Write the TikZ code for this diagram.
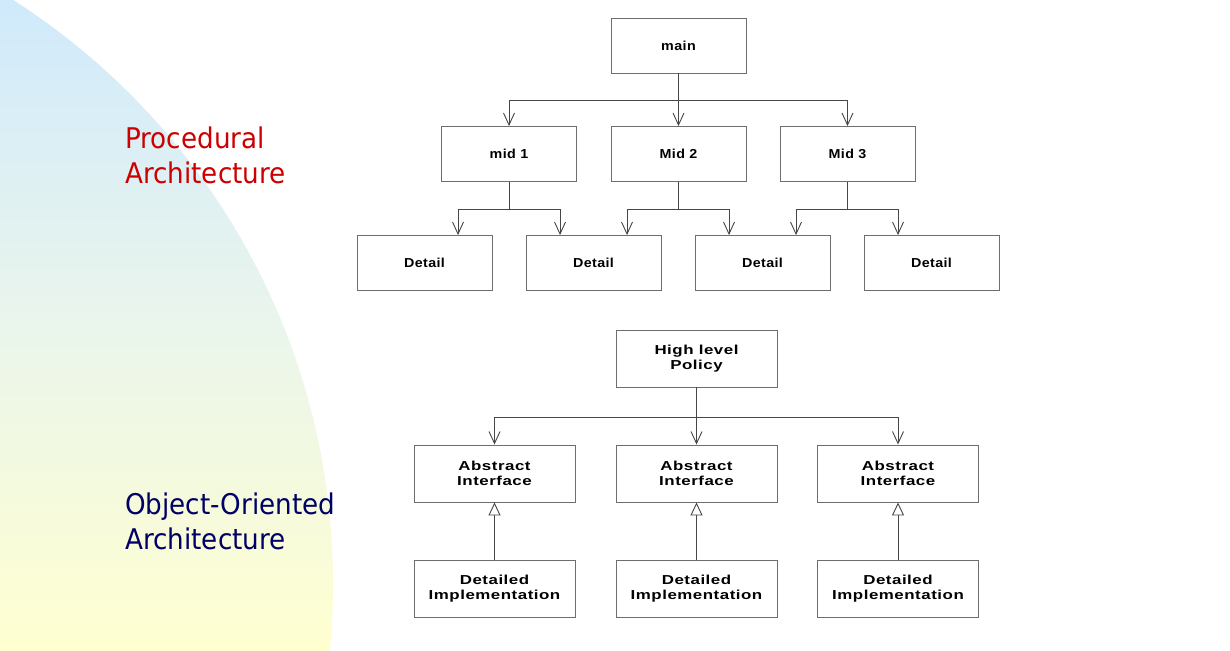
\documentclass[tikz,border=0pt]{standalone}
\usepackage{fontspec}
\usetikzlibrary{arrows.meta}
\newfontfamily\tahomalike{DejaVu Sans}[FakeStretch=0.92]
\newfontfamily\boxfont{Liberation Sans}[FakeStretch=1.1, LetterSpace=3]
\newfontfamily\boxfontwide{Liberation Sans}[FakeStretch=1.3, LetterSpace=4]
\definecolor{bgtop}{RGB}{208,234,251}
\definecolor{bgbot}{RGB}{255,255,208}
\definecolor{procred}{RGB}{204,0,0}
\definecolor{oonavy}{RGB}{0,0,102}
\definecolor{boxline}{RGB}{110,110,110}
\definecolor{conline}{RGB}{70,70,70}
\begin{document}
\begin{tikzpicture}[x=1pt,y=-1pt,
  topbox/.style={draw=boxline, line width=0.9pt, minimum width=135pt, minimum height=55pt,
    inner sep=0pt, align=center, font=\boxfont\bfseries\fontsize{13}{15.5}\selectfont},
  botbox/.style={draw=boxline, line width=0.9pt, minimum width=161pt, minimum height=57pt,
    inner sep=0pt, align=center, font=\boxfontwide\bfseries\fontsize{13}{15.5}\selectfont},
  bigtitle/.style={anchor=north west, inner sep=0pt, align=left,
    font=\tahomalike\fontsize{28.5}{35.5}\selectfont},
  arr/.style={draw=conline, line width=0.9pt, -{Straight Barb[length=12pt,width=11pt,line width=0.9pt]}},
  real/.style={draw=conline, line width=0.9pt, -{Triangle[open,length=13pt,width=12pt,line width=0.9pt]}}
]
\useasboundingbox (0,0) rectangle (1230,650);
\fill[white] (0,0) rectangle (1230,650);
\begin{scope}
  \clip (-360,584) circle [radius=693pt];
  \shade[top color=bgtop, bottom color=bgbot, middle color={rgb,255:red,234;green,245;blue,236}] (0,0) rectangle (340,650);
\end{scope}

% titles
\node[bigtitle, text=procred] (tproc) at (125,126.5) {Procedural\\Architecture};
\node[bigtitle, text=oonavy] (too) at (125,492.5) {Object-Oriented\\Architecture};

% procedural diagram
\node[topbox] (main) at (678.5,45.5) {main};
\node[topbox] (mid1) at (509,154) {mid 1};
\node[topbox] (mid2) at (678.5,154) {Mid 2};
\node[topbox] (mid3) at (847.5,154) {Mid 3};
\node[topbox] (d1) at (424.5,263) {Detail};
\node[topbox] (d2) at (593.5,263) {Detail};
\node[topbox] (d3) at (762.5,263) {Detail};
\node[topbox] (d4) at (931.5,263) {Detail};

\draw[arr] (main.south) -- ++(0,27) -| (mid1.north);
\draw[arr] (main.south) -- (mid2.north);
\draw[arr] (main.south) -- ++(0,27) -| (mid3.north);

\draw[arr] (mid1.south) -- ++(0,27) -| ([xshift=33.5pt]d1.north);
\draw[arr] (mid1.south) -- ++(0,27) -| ([xshift=-33.5pt]d2.north);
\draw[arr] (mid2.south) -- ++(0,27) -| ([xshift=33.5pt]d2.north);
\draw[arr] (mid2.south) -- ++(0,27) -| ([xshift=-33.5pt]d3.north);
\draw[arr] (mid3.south) -- ++(0,27) -| ([xshift=33.5pt]d3.north);
\draw[arr] (mid3.south) -- ++(0,27) -| ([xshift=-33.5pt]d4.north);

% object-oriented diagram
\node[botbox] (hlp) at (696.5,358.5) {High level\\Policy};
\node[botbox] (ai1) at (494.5,473.5) {Abstract\\Interface};
\node[botbox] (ai2) at (696.5,473.5) {Abstract\\Interface};
\node[botbox] (ai3) at (898,473.5) {Abstract\\Interface};
\node[botbox] (di1) at (494.5,588.5) {Detailed\\Implementation};
\node[botbox] (di2) at (696.5,588.5) {Detailed\\Implementation};
\node[botbox] (di3) at (898,588.5) {Detailed\\Implementation};

\draw[arr] (hlp.south) -- ++(0,29.5) -| (ai1.north);
\draw[arr] (hlp.south) -- (ai2.north);
\draw[arr] (hlp.south) -- ++(0,29.5) -| (ai3.north);

\draw[real] (di1.north) -- (ai1.south);
\draw[real] (di2.north) -- (ai2.south);
\draw[real] (di3.north) -- (ai3.south);
\end{tikzpicture}
\end{document}
